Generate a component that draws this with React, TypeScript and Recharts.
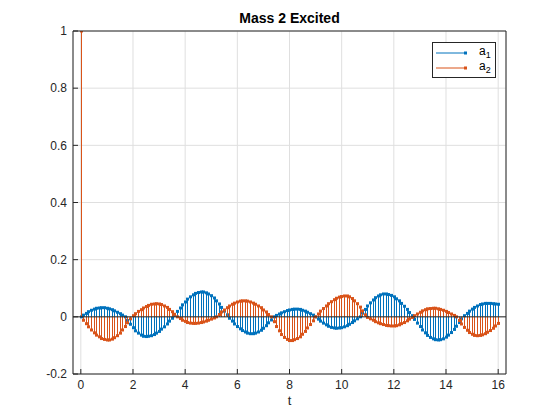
import React from "react";
import {
  ComposedChart,
  Bar,
  XAxis,
  YAxis,
  CartesianGrid,
  ReferenceLine,
} from "recharts";

// sample times (s)
const T = [
  0, 0.1, 0.2, 0.3, 0.4, 0.5, 0.6, 0.7, 0.8, 0.9,
  1, 1.1, 1.2, 1.3, 1.4, 1.5, 1.6, 1.7, 1.8, 1.9,
  2, 2.1, 2.2, 2.3, 2.4, 2.5, 2.6, 2.7, 2.8, 2.9,
  3, 3.1, 3.2, 3.3, 3.4, 3.5, 3.6, 3.7, 3.8, 3.9,
  4, 4.1, 4.2, 4.3, 4.4, 4.5, 4.6, 4.7, 4.8, 4.9,
  5, 5.1, 5.2, 5.3, 5.4, 5.5, 5.6, 5.7, 5.8, 5.9,
  6, 6.1, 6.2, 6.3, 6.4, 6.5, 6.6, 6.7, 6.8, 6.9,
  7, 7.1, 7.2, 7.3, 7.4, 7.5, 7.6, 7.7, 7.8, 7.9,
  8, 8.1, 8.2, 8.3, 8.4, 8.5, 8.6, 8.7, 8.8, 8.9,
  9, 9.1, 9.2, 9.3, 9.4, 9.5, 9.6, 9.7, 9.8, 9.9,
  10, 10.1, 10.2, 10.3, 10.4, 10.5, 10.6, 10.7, 10.8, 10.9,
  11, 11.1, 11.2, 11.3, 11.4, 11.5, 11.6, 11.7, 11.8, 11.9,
  12, 12.1, 12.2, 12.3, 12.4, 12.5, 12.6, 12.7, 12.8, 12.9,
  13, 13.1, 13.2, 13.3, 13.4, 13.5, 13.6, 13.7, 13.8, 13.9,
  14, 14.1, 14.2, 14.3, 14.4, 14.5, 14.6, 14.7, 14.8, 14.9,
  15, 15.1, 15.2, 15.3, 15.4, 15.5, 15.6, 15.7, 15.8, 15.9,
  16,
];

// a1 amplitude
const A1 = [
  0, 0.006, 0.012, 0.018, 0.023, 0.027, 0.03, 0.031, 0.032, 0.032,
  0.03, 0.028, 0.025, 0.021, 0.016, 0.011, 0.006, 0, -0.013, -0.026,
  -0.038, -0.049, -0.057, -0.064, -0.068, -0.069, -0.068, -0.066, -0.062, -0.057,
  -0.051, -0.043, -0.035, -0.025, -0.015, -0.005, 0.006, 0.019, 0.031, 0.042,
  0.052, 0.062, 0.07, 0.077, 0.082, 0.085, 0.087, 0.087, 0.084, 0.08,
  0.074, 0.066, 0.056, 0.045, 0.033, 0.02, 0.007, -0.005, -0.015, -0.025,
  -0.034, -0.042, -0.048, -0.053, -0.057, -0.059, -0.059, -0.057, -0.053, -0.047,
  -0.04, -0.031, -0.021, -0.011, 0, 0.005, 0.01, 0.014, 0.018, 0.022,
  0.024, 0.026, 0.027, 0.027, 0.026, 0.023, 0.02, 0.016, 0.011, 0.006,
  0, -0.008, -0.015, -0.022, -0.028, -0.033, -0.037, -0.039, -0.04, -0.039,
  -0.038, -0.035, -0.031, -0.026, -0.02, -0.014, -0.007, 0, 0.013, 0.026,
  0.038, 0.049, 0.059, 0.067, 0.073, 0.077, 0.08, 0.08, 0.078, 0.075,
  0.07, 0.063, 0.056, 0.047, 0.037, 0.026, 0.015, 0.004, -0.009, -0.022,
  -0.034, -0.046, -0.056, -0.065, -0.072, -0.077, -0.08, -0.081, -0.08, -0.077,
  -0.071, -0.064, -0.055, -0.044, -0.033, -0.02, -0.007, 0.004, 0.012, 0.02,
  0.027, 0.033, 0.038, 0.043, 0.045, 0.047, 0.047, 0.047, 0.046, 0.045,
  0.044,
];

// a2 amplitude
const A2 = [
  1, -0.012, -0.024, -0.035, -0.046, -0.056, -0.064, -0.07, -0.076, -0.079,
  -0.081, -0.081, -0.078, -0.073, -0.066, -0.057, -0.046, -0.034, -0.021, -0.007,
  0.004, 0.011, 0.019, 0.025, 0.031, 0.036, 0.04, 0.044, 0.045, 0.046,
  0.045, 0.043, 0.038, 0.033, 0.026, 0.018, 0.009, 0, -0.006, -0.012,
  -0.016, -0.02, -0.022, -0.023, -0.023, -0.022, -0.02, -0.018, -0.015, -0.012,
  -0.008, -0.004, 0, 0.008, 0.017, 0.024, 0.032, 0.038, 0.044, 0.048,
  0.052, 0.055, 0.056, 0.056, 0.055, 0.052, 0.048, 0.044, 0.038, 0.032,
  0.024, 0.017, 0.008, 0, -0.017, -0.034, -0.049, -0.062, -0.072, -0.079,
  -0.083, -0.083, -0.08, -0.076, -0.07, -0.061, -0.051, -0.039, -0.027, -0.014,
  0, 0.01, 0.02, 0.029, 0.038, 0.046, 0.053, 0.06, 0.065, 0.069,
  0.071, 0.073, 0.073, 0.07, 0.064, 0.056, 0.046, 0.034, 0.021, 0.007,
  -0.002, -0.007, -0.012, -0.017, -0.021, -0.024, -0.027, -0.03, -0.031, -0.032,
  -0.032, -0.031, -0.028, -0.024, -0.02, -0.014, -0.008, -0.002, 0.004, 0.01,
  0.016, 0.021, 0.025, 0.028, 0.029, 0.03, 0.03, 0.028, 0.026, 0.023,
  0.019, 0.015, 0.01, 0.005, 0, -0.013, -0.025, -0.037, -0.047, -0.055,
  -0.061, -0.065, -0.066, -0.065, -0.063, -0.059, -0.054, -0.048, -0.04, -0.032,
  -0.023,
];

const X_TICKS = [0, 2, 4, 6, 8, 10, 12, 14, 16];
const Y_TICKS = [-0.2, 0, 0.2, 0.4, 0.6, 0.8, 1];

const BLUE = "#0072BD";
const ORANGE = "#D95319";
const AXIS = "#262626";

const data = T.map((t, i) => ({ t, a1: A1[i], a2: A2[i] }));

// stem: vertical line from baseline + small marker at the tip
const stem = (color: string, key: string) => (props: any) => {
  const { x, y, width, height, payload } = props;
  const v = payload ? payload[key] : 0;
  const cx = Math.round(x + width / 2) + 0.5;
  const top = Math.min(y, y + height);
  const bot = Math.max(y, y + height);
  const tip = v >= 0 ? top : bot;
  return (
    <g>
      <line x1={cx} x2={cx} y1={top} y2={bot} stroke={color} strokeWidth={1} />
      <rect x={cx - 1.5} y={tip - 1.5} width={3} height={3} fill={color} />
    </g>
  );
};

const LegendBox = () => (
  <div
    style={{
      position: "absolute",
      left: 432,
      top: 42,
      width: 64,
      height: 36,
      border: `1px solid ${AXIS}`,
      background: "#fff",
      boxSizing: "border-box",
      fontSize: 12,
      color: "#000",
      padding: "2px 0 0 2px",
    }}
  >
    {[
      { c: BLUE, n: "1" },
      { c: ORANGE, n: "2" },
    ].map((r) => (
      <div key={r.n} style={{ display: "flex", alignItems: "center", height: 15 }}>
        <svg width={34} height={6}>
          <line x1={1} x2={31} y1={3} y2={3} stroke={r.c} strokeWidth={1} />
          <rect x={29} y={1.5} width={3} height={3} fill={r.c} />
        </svg>
        <span style={{ marginLeft: 10, lineHeight: "12px" }}>
          a<sub style={{ fontSize: 9, verticalAlign: "-3px" }}>{r.n}</sub>
        </span>
      </div>
    ))}
  </div>
);

const fmt = (v: number) => String(Math.round(v * 10) / 10);

export default function App() {
  return (
    <div
      style={{
        position: "absolute",
        left: 0,
        top: 0,
        width: 560,
        height: 420,
        background: "#fff",
        fontFamily: "'Liberation Sans', Arial, Helvetica, sans-serif",
      }}
    >
      <div
        style={{
          position: "absolute",
          left: 73,
          width: 433,
          top: 10,
          textAlign: "center",
          fontWeight: "bold",
          fontSize: 14,
          color: "#000",
        }}
      >
        Mass 2 Excited
      </div>
      <ComposedChart
        width={560}
        height={420}
        data={data}
        margin={{ top: 30, right: 53, left: 33, bottom: 16 }}
      >
        <CartesianGrid xAxisId="x1" yAxisId="left" stroke="#dfdfdf" strokeWidth={1} />
        <XAxis
          xAxisId="x1"
          dataKey="t"
          type="number"
          domain={[-0.3, 16.3]}
          ticks={X_TICKS}
          allowDataOverflow
          height={30}
          stroke={AXIS}
          tickSize={-5}
          tickMargin={11}
          tick={{ fill: AXIS, fontSize: 12 }}
          label={{ value: "t", position: "bottom", offset: -8, fill: AXIS, fontSize: 13 }}
        />
        <XAxis
          xAxisId="x2"
          dataKey="t"
          type="number"
          domain={[-0.3, 16.3]}
          allowDataOverflow
          hide
        />
        <XAxis
          xAxisId="top"
          orientation="top"
          dataKey="t"
          type="number"
          domain={[-0.3, 16.3]}
          ticks={X_TICKS}
          allowDataOverflow
          height={1}
          stroke={AXIS}
          tickSize={-5}
          tick={false}
        />
        <YAxis
          yAxisId="left"
          type="number"
          domain={[-0.2, 1]}
          ticks={Y_TICKS}
          allowDataOverflow
          width={40}
          stroke={AXIS}
          tickSize={-5}
          tickMargin={11}
          tickFormatter={fmt}
          tick={{ fill: AXIS, fontSize: 12 }}
        />
        <YAxis
          yAxisId="right"
          orientation="right"
          type="number"
          domain={[-0.2, 1]}
          ticks={Y_TICKS}
          allowDataOverflow
          width={1}
          stroke={AXIS}
          tickSize={-5}
          tick={false}
        />
        <ReferenceLine xAxisId="x1" yAxisId="left" y={0} stroke={AXIS} strokeWidth={1} />
        <Bar
          xAxisId="x1"
          yAxisId="left"
          dataKey="a1"
          barSize={2}
          isAnimationActive={false}
          shape={stem(BLUE, "a1")}
        />
        <Bar
          xAxisId="x2"
          yAxisId="left"
          dataKey="a2"
          barSize={2}
          isAnimationActive={false}
          shape={stem(ORANGE, "a2")}
        />
      </ComposedChart>
      <LegendBox />
    </div>
  );
}
